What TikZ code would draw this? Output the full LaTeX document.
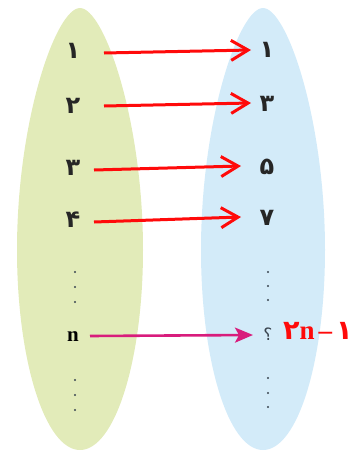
\documentclass[tikz,border=0pt]{standalone}
\usepackage{fontspec}
\usetikzlibrary{arrows.meta}
\setmainfont{Liberation Serif}
\newfontfamily\arabicfont[Script=Arabic]{DejaVu Sans}
\definecolor{leftfill}{HTML}{E2EBB9}
\definecolor{rightfill}{HTML}{D3EBF9}
\definecolor{arrowred}{HTML}{FF0A0A}
\definecolor{arrowpink}{HTML}{D81C7C}
\definecolor{dotgray}{HTML}{3A4550}
\tikzset{
  digit/.style={font=\arabicfont\bfseries\fontsize{24}{24}\selectfont, text=black!85, inner sep=0pt},
  mapred/.style={draw=arrowred, line width=3pt, -{Straight Barb[length=17pt,width=20pt,line width=3pt]}},
  mappink/.style={draw=arrowpink, line width=2.6pt, -{Stealth[length=18pt,width=15pt,inset=4pt]}},
  dotmark/.style={circle, fill=dotgray, inner sep=0pt, minimum size=2.4pt}
}
\begin{document}
\begin{tikzpicture}[x=1pt,y=-1pt]
\useasboundingbox (0,0) rectangle (362,453);
% sets
\fill[leftfill] (80,8) .. controls (104,8) and (143,120) .. (143,250)
  .. controls (143,360) and (115,450) .. (80,450)
  .. controls (45,450) and (17,360) .. (17,250)
  .. controls (17,120) and (56,8) .. (80,8) -- cycle;
\fill[rightfill] (263,8) .. controls (287,8) and (325,120) .. (325,250)
  .. controls (325,360) and (298,450) .. (263,450)
  .. controls (228,450) and (201,360) .. (201,250)
  .. controls (201,120) and (239,8) .. (263,8) -- cycle;
% left elements
\node[digit] (l1) at (73,51) {۱};
\node[digit] (l2) at (73,106) {۲};
\node[digit] (l3) at (73,168) {۳};
\node[digit] (l4) at (73,220) {۴};
\node[dotmark] (ld1) at (75,272) {};
\node[dotmark] (ld2) at (75,287) {};
\node[dotmark] (ld3) at (75,302) {};
\node[font=\bfseries\fontsize{21}{21}\selectfont, inner sep=0pt] (ln) at (73,337) {n};
\node[dotmark] (ld4) at (75,380) {};
\node[dotmark] (ld5) at (75,395) {};
\node[dotmark] (ld6) at (75,410) {};
% right elements
\node[digit] (r1) at (267,50) {۱};
\node[digit] (r2) at (267,104) {۳};
\node[digit] (r3) at (267,167) {۵};
\node[digit] (r4) at (267,218) {۷};
\node[dotmark] (rd1) at (268,272) {};
\node[dotmark] (rd2) at (268,286) {};
\node[dotmark] (rd3) at (268,300) {};
\node[font=\arabicfont\fontsize{17}{17}\selectfont, text=dotgray, inner sep=0pt] (rq) at (268,334) {؟};
\node[dotmark] (rd4) at (268,378) {};
\node[dotmark] (rd5) at (268,393) {};
\node[dotmark] (rd6) at (268,407) {};
\node[text=arrowred, font=\bfseries\fontsize{27}{27}\selectfont, inner sep=0pt, anchor=west] (lab) at (283,331)
  {{\arabicfont ۲}n\hspace{4pt}–\hspace{4pt}{\arabicfont ۱}};
% arrow ends
\coordinate (s1) at (104,53); \coordinate (e1) at (251,50);
\coordinate (s2) at (104,106); \coordinate (e2) at (251,103);
\coordinate (s3) at (94,170); \coordinate (e3) at (241,166);
\coordinate (s4) at (94,222); \coordinate (e4) at (241,217);
\coordinate (s5) at (90,336); \coordinate (e5) at (253,335);
\draw[mapred] (s1) -- (e1);
\draw[mapred] (s2) -- (e2);
\draw[mapred] (s3) -- (e3);
\draw[mapred] (s4) -- (e4);
\draw[mappink] (s5) -- (e5);
\end{tikzpicture}
\end{document}
